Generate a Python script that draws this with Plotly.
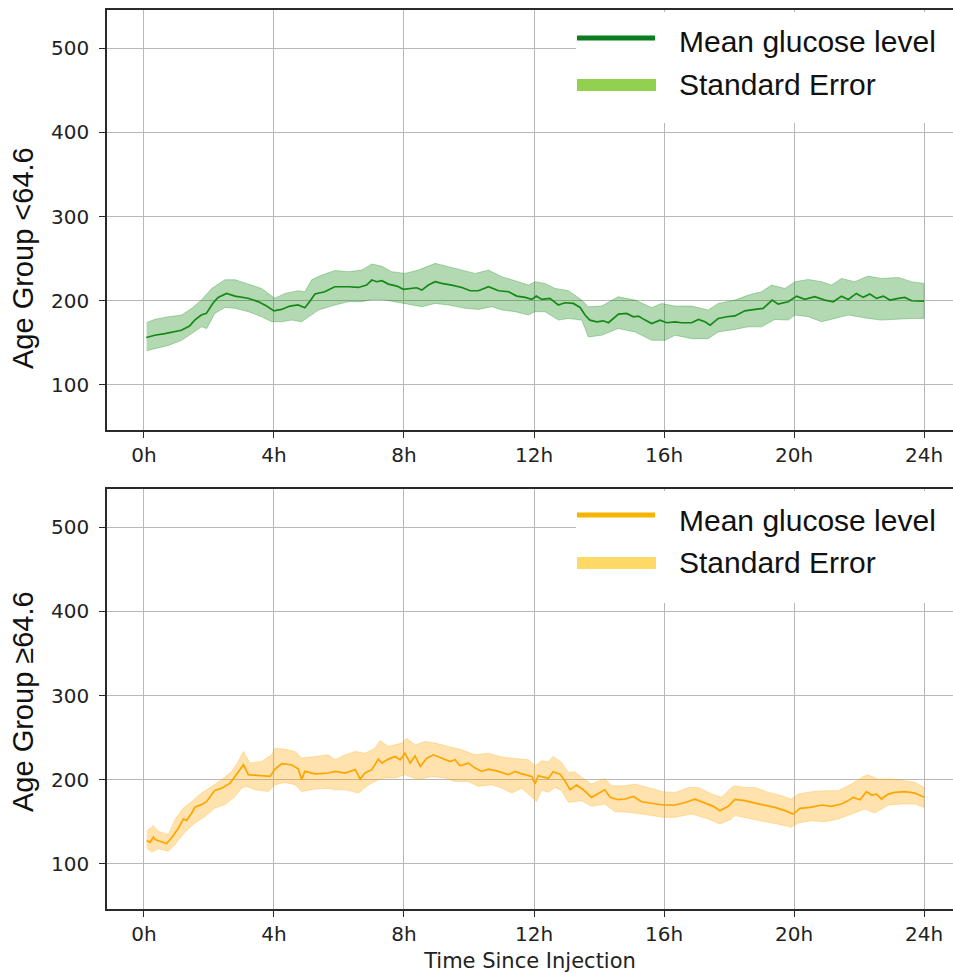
import plotly.graph_objects as go

# ---------------- data ----------------
tick_hours = [0, 4, 8, 12, 16, 20, 24]
tick_labels = ["0h", "4h", "8h", "12h", "16h", "20h", "24h"]
y_ticks = [100, 200, 300, 400, 500]

# Age group < 64.6 : mean glucose
young_mean_h = [0.07, 0.33, 0.64, 0.9, 1.15, 1.4, 1.56, 1.76, 1.92, 2.12, 2.28, 2.54, 2.8, 3.2, 3.51,
                3.77, 4.0, 4.23, 4.49, 4.74, 4.95, 5.1, 5.26, 5.56, 5.87, 6.29, 6.6, 6.85, 7.01, 7.16,
                7.32, 7.52, 7.78, 7.98, 8.19, 8.39, 8.55, 8.75, 8.96, 9.16, 9.47, 9.78, 10.04, 10.29,
                10.6, 10.91, 11.22, 11.47, 11.73, 11.93, 12.07, 12.24, 12.49, 12.75, 12.95, 13.21, 13.42,
                13.57, 13.72, 13.93, 14.13, 14.29, 14.6, 14.85, 15.06, 15.21, 15.42, 15.62, 15.88, 16.08,
                16.34, 16.54, 16.85, 17.06, 17.26, 17.42, 17.67, 17.93, 18.18, 18.49, 18.8, 19.05, 19.33,
                19.51, 19.82, 20.08, 20.33, 20.64, 20.95, 21.21, 21.46, 21.67, 21.92, 22.13, 22.33, 22.54,
                22.75, 22.95, 23.21, 23.41, 23.62, 24.0]
young_mean = [156.4, 159, 161, 163, 165, 170, 177, 183, 185, 197, 204, 208.7, 205.5, 203, 199,
              193.7, 188, 189.7, 193.7, 195, 191.7, 199, 208, 210.7, 216.6, 216.6, 215.8, 218.6, 224.6, 222.6,
              223.8, 219.8, 217.4, 213.5, 214.6, 215.4, 212.7, 218.6, 222.6, 220.6, 218.6, 215.8, 211.9, 211.9,
              216.6, 211.9, 210.7, 205.5, 204, 201.6, 205.5, 201.6, 202.8, 194.9, 197.6, 196.8, 192,
              183, 177, 175, 176.2, 173.9, 184.2, 185, 181, 181.8, 177, 173, 177, 173.9,
              175, 173.9, 173.9, 177.8, 175, 171, 179, 181, 182, 188, 189.7, 191, 200.8,
              196, 198.8, 205.5, 201.6, 204.8, 200.8, 198.8, 205.5, 201.6, 208.7, 204, 207.9, 202.8,
              205.5, 200.8, 202.8, 204, 200, 199.6]
# Age group < 64.6 : standard-error band
young_upper_h = [0.08, 0.34, 0.75, 1.16, 1.47, 1.77, 2.08, 2.49, 2.8, 3.21, 3.62, 3.93, 4.03, 4.34, 4.75,
                 4.95, 5.16, 5.47, 5.88, 6.29, 6.7, 7.01, 7.32, 7.62, 8.03, 8.44, 8.96, 9.37, 9.78, 10.19,
                 10.6, 11.01, 11.42, 11.83, 12.03, 12.34, 12.65, 13.06, 13.47, 13.67, 14.08, 14.59, 15.11,
                 15.62, 15.93, 16.34, 16.85, 17.36, 17.67, 18.18, 18.59, 19.0, 19.31, 19.72, 20.03, 20.44,
                 20.85, 21.15, 21.46, 21.87, 22.28, 22.69, 23.21, 23.62, 24.0]
young_upper = [174, 178, 181, 183, 191, 201, 214.6, 225, 225, 220, 214.6, 205.5, 203, 208.7, 212,
               210.7, 225, 230.5, 236, 234.5, 236.4, 243.6, 241, 234.5, 232.5, 236.4, 244.4, 240.4, 236.4, 232.5,
               236.4, 228.5, 223.8, 218.6, 222.6, 220.6, 214.6, 212, 200.8, 192.9, 193.7, 204.8, 200.8,
               192, 196.8, 193.7, 193.7, 189, 196.8, 200.8, 206.7, 210.7, 218.6, 214.6, 222.6, 225.3,
               222.6, 218.6, 226.5, 222.6, 229.3, 226.5, 227.7, 222.6, 220.6]
young_lower_h = [0.08, 0.34, 0.75, 1.16, 1.47, 1.77, 1.93, 2.18, 2.49, 2.8, 3.21, 3.62, 3.93, 4.24, 4.54,
                 4.85, 5.06, 5.37, 5.88, 6.29, 6.7, 7.01, 7.32, 7.73, 8.03, 8.55, 8.96, 9.37, 9.88, 10.29,
                 10.7, 11.01, 11.42, 11.83, 12.03, 12.34, 12.75, 13.06, 13.47, 13.67, 14.08, 14.59, 15.11,
                 15.62, 16.03, 16.34, 16.85, 17.36, 17.67, 18.18, 18.59, 19.0, 19.41, 19.82, 20.03, 20.44,
                 20.85, 21.26, 21.67, 22.28, 22.69, 23.21, 23.62, 24.0]
young_lower = [140.6, 143, 147, 153, 161, 169, 167, 185, 192, 191, 187, 181, 175, 175, 177,
               175, 181, 189, 195, 198.8, 198.8, 201.6, 201.6, 198.8, 196.8, 192.9, 196.8, 194.9, 191, 189.7,
               192.9, 189, 187, 183, 187, 187, 177, 179, 177, 157, 159, 167, 163,
               153, 153, 159, 155, 155, 163, 166, 169, 169, 177.8, 177, 183, 181,
               175, 179, 183, 179, 177, 177.8, 179, 179]

# Age group >= 64.6 : mean glucose
old_mean_h = [0.08, 0.19, 0.29, 0.34, 0.49, 0.7, 0.85, 1.06, 1.21, 1.31, 1.47, 1.57, 1.77, 1.93, 2.08,
              2.18, 2.39, 2.65, 2.8, 2.95, 3.06, 3.21, 3.52, 3.88, 4.03, 4.24, 4.54, 4.75, 4.85, 4.95,
              5.26, 5.67, 5.88, 6.19, 6.5, 6.65, 6.8, 7.01, 7.21, 7.32, 7.52, 7.73, 7.88, 8.03, 8.19,
              8.34, 8.5, 8.7, 8.91, 9.16, 9.42, 9.57, 9.73, 9.98, 10.19, 10.39, 10.6, 10.91, 11.21,
              11.42, 11.62, 11.93, 12.03, 12.13, 12.29, 12.44, 12.59, 12.8, 12.95, 13.11, 13.31, 13.52,
              13.77, 13.98, 14.18, 14.34, 14.59, 14.8, 15.06, 15.31, 15.62, 15.98, 16.34, 16.65, 16.95,
              17.26, 17.52, 17.72, 17.98, 18.18, 18.49, 18.8, 19.1, 19.41, 19.72, 19.98, 20.18, 20.49,
              20.85, 21.15, 21.46, 21.67, 21.82, 22.03, 22.23, 22.39, 22.54, 22.69, 22.9, 23.1, 23.41,
              23.72, 24.0]
old_mean = [128, 125.7, 132, 129, 127, 124.2, 131, 142.7, 153.4, 151.8, 160.5, 167.6, 170.4, 174.3, 182.2,
            187.4, 190, 196, 204, 212, 217.8, 206, 204.7, 204, 212.6, 219, 217.8, 212.6, 200, 210,
            207, 208, 210, 208, 212, 200.8, 208, 212, 224.5, 219.8, 224.5, 227.7, 223.7, 231.6, 219.8,
            228.4, 215.8, 225.7, 229.6, 225.7, 221.7, 223.7, 216.6, 219.8, 213.8, 209.9, 212.6, 209.9, 206,
            209.9, 207, 204, 194.9, 204.7, 202.8, 201.6, 209.5, 206.7, 198.8, 188.1, 193.7, 188.1,
            179.1, 184.2, 188.1, 179.1, 176.3, 177.1, 180.2, 173.9, 172.3, 170, 170, 173, 177,
            172.3, 168.4, 163.3, 168.4, 176.7, 175.2, 172.3, 170, 167.2, 163.3, 159.3, 166, 167.2,
            170, 168.4, 171.2, 175.2, 179.1, 176.3, 185.8, 181.8, 183, 177.1, 183, 185, 185.8,
            184.2, 179.1]
# Age group >= 64.6 : standard-error band
old_upper_h = [0.08, 0.29, 0.44, 0.75, 0.95, 1.21, 1.47, 1.77, 2.08, 2.39, 2.7, 2.9, 3.06, 3.26, 3.62,
               3.93, 4.03, 4.34, 4.65, 4.85, 5.26, 5.67, 5.88, 6.19, 6.5, 6.8, 7.11, 7.26, 7.52, 7.93,
               8.08, 8.34, 8.65, 8.96, 9.37, 9.78, 10.19, 10.6, 11.01, 11.42, 11.83, 12.03, 12.24, 12.44,
               12.59, 12.85, 13.06, 13.26, 13.47, 13.77, 14.18, 14.39, 14.8, 15.11, 15.52, 15.98, 16.34,
               16.75, 17.06, 17.47, 17.77, 18.08, 18.18, 18.49, 18.8, 19.21, 19.62, 19.92, 20.13, 20.54,
               20.95, 21.36, 21.77, 22.13, 22.28, 22.59, 23.0, 23.41, 23.72, 24.0]
old_upper = [138.8, 145.5, 138.8, 134.8, 152.6, 166.4, 174.3, 184.2, 192, 200, 210, 221.7, 233.6, 219.8, 221.7,
             229.6, 237.5, 236.3, 233.6, 225.7, 227.7, 229.6, 223.7, 229.6, 233.6, 231.6, 237.5, 246.6, 239.5, 243.5,
             249.4, 241.5, 245.4, 243.5, 239.5, 235.5, 229.6, 231.6, 226.9, 225.7, 223.7, 216.6, 222.5, 221.3,
             227.6, 220.5, 208.7, 209.5, 202.8, 194.9, 201.6, 192.9, 192.9, 194.9, 190.9, 185.8, 185,
             190.9, 190.9, 183, 179.1, 190.9, 192.9, 190.9, 190.9, 185, 181, 177.1, 183, 185.8,
             187, 187, 194.9, 204, 205.5, 200.8, 200.8, 198.8, 196.9, 190.9]
old_lower_h = [0.08, 0.24, 0.44, 0.75, 0.95, 1.26, 1.57, 1.88, 2.18, 2.49, 2.8, 3.0, 3.16, 3.42, 3.83,
               4.03, 4.34, 4.65, 4.85, 5.26, 5.67, 5.88, 6.19, 6.6, 6.91, 7.21, 7.42, 7.73, 8.03, 8.44,
               8.85, 9.26, 9.57, 9.98, 10.29, 10.7, 11.01, 11.32, 11.62, 12.08, 12.24, 12.44, 12.65,
               12.85, 13.06, 13.47, 13.77, 14.18, 14.49, 14.9, 15.31, 15.98, 16.34, 16.85, 17.36, 17.72,
               18.08, 18.18, 18.49, 18.8, 19.21, 19.62, 19.92, 20.13, 20.54, 20.95, 21.36, 21.77, 22.18,
               22.49, 22.9, 23.31, 23.72, 24.0]
old_lower = [119, 113.9, 118, 115, 123, 137.6, 148.7, 156.5, 166.4, 170.4, 180, 190, 192, 188, 186,
             194, 196.8, 194, 186, 189, 190, 188, 188, 184.2, 194, 200, 202, 202, 206, 200,
             204, 202, 198, 198, 192, 194, 190, 184.2, 190, 174.3, 188, 185, 190.9,
             187, 173.2, 175.2, 168.4, 171.2, 162.1, 161.3, 159.3, 155.4, 155.4, 159.3, 153.4, 147.5,
             153.4, 157.4, 155.4, 153.4, 149.4, 146.3, 143.5, 148.6, 151.4, 150.2, 153.4, 159.3, 165.2,
             160.5, 170, 171.2, 171.2, 167.2]

legend_labels = ["Mean glucose level", "Standard Error"]

# ---------------- figure ----------------
W, H = 953, 973


def py(pix):
    return 1 - pix / H


fig = go.Figure()

panels = [
    dict(xa="x", ya="y", mean_h=young_mean_h, mean=young_mean, up_h=young_upper_h, up=young_upper,
         lo_h=young_lower_h, lo=young_lower, line="#138a13", fill="rgba(0,128,0,0.30)",
         edge="rgba(0,128,0,0.28)", name="Age Group <64.6"),
    dict(xa="x2", ya="y2", mean_h=old_mean_h, mean=old_mean, up_h=old_upper_h, up=old_upper,
         lo_h=old_lower_h, lo=old_lower, line="#FFA500", fill="rgba(255,165,0,0.32)",
         edge="rgba(255,165,0,0.28)", name="Age Group ≥64.6"),
]

for p in panels:
    fig.add_trace(go.Scatter(
        x=p["up_h"] + p["lo_h"][::-1], y=p["up"] + p["lo"][::-1],
        fill="toself", fillcolor=p["fill"], line=dict(color=p["edge"], width=1),
        mode="lines", hoverinfo="skip", showlegend=False, xaxis=p["xa"], yaxis=p["ya"],
        name=p["name"] + " Standard Error"))
    fig.add_trace(go.Scatter(
        x=p["mean_h"], y=p["mean"], mode="lines", line=dict(color=p["line"], width=1.7),
        showlegend=False, xaxis=p["xa"], yaxis=p["ya"], name=p["name"] + " Mean glucose level"))

x_left = 107 / W
x_range = [-1.138, 24.892]
tickfont = dict(family="DejaVu Sans", size=20, color="#222222")
common_x = dict(range=x_range, domain=[x_left, 1.0], tickmode="array", tickvals=tick_hours,
                ticktext=tick_labels, showgrid=True, gridcolor="#b8b8b8", gridwidth=1,
                zeroline=False, showline=True, linecolor="#2a2a2a", linewidth=1.6, mirror=True,
                ticks="outside", ticklen=6, tickwidth=1.2, tickcolor="#2a2a2a", tickfont=tickfont)
common_y = dict(range=[46.5, 545.3], tickmode="array", tickvals=y_ticks, showgrid=True,
                gridcolor="#b8b8b8", gridwidth=1, zeroline=False, showline=True,
                linecolor="#2a2a2a", linewidth=1.6, ticks="outside", ticklen=6, tickwidth=1.2,
                tickcolor="#2a2a2a", tickfont=tickfont, ticklabelstandoff=6)

fig.update_layout(
    width=W, height=H, margin=dict(l=0, r=0, t=0, b=0),
    paper_bgcolor="white", plot_bgcolor="white", showlegend=False,
    xaxis=dict(**common_x, anchor="y"),
    yaxis=dict(**common_y, domain=[py(430), py(10)], anchor="x"),
    xaxis2=dict(**common_x, anchor="y2",
                title=dict(text="Time Since Injection", standoff=9,
                           font=dict(family="DejaVu Sans", size=21, color="#222222"))),
    yaxis2=dict(**common_y, domain=[py(909), py(489)], anchor="x2"),
)

# legend boxes drawn as in the picture (white patch over grid, wide swatches)
legend_specs = [
    dict(box=(12, 123), line_y=38, band_y=85, t1=42, t2=84, line_col="#0b7d1e", band_col="#92d050"),
    dict(box=(491, 603), line_y=515, band_y=563, t1=520, t2=562, line_col="#f5b400", band_col="#ffd966"),
]
shapes = []
annotations = []
for s in legend_specs:
    shapes.append(dict(type="rect", xref="paper", yref="paper", x0=576 / W, x1=1.0,
                       y0=py(s["box"][1]), y1=py(s["box"][0]), fillcolor="white",
                       line=dict(width=0), layer="above"))
    shapes.append(dict(type="line", xref="paper", yref="paper", x0=577 / W, x1=655 / W,
                       y0=py(s["line_y"]), y1=py(s["line_y"]),
                       line=dict(color=s["line_col"], width=5), layer="above"))
    shapes.append(dict(type="line", xref="paper", yref="paper", x0=577 / W, x1=656 / W,
                       y0=py(s["band_y"]), y1=py(s["band_y"]),
                       line=dict(color=s["band_col"], width=12), layer="above"))
    for txt, ty in zip(legend_labels, (s["t1"], s["t2"])):
        annotations.append(dict(text=txt, xref="paper", yref="paper", x=677 / W, y=py(ty),
                                xanchor="left", yanchor="middle", showarrow=False,
                                font=dict(family="Liberation Sans", size=30, color="#111111")))

for p, cy in zip(panels, (258, 702)):
    annotations.append(dict(text=p["name"], xref="paper", yref="paper", x=23 / W, y=py(cy),
                            xanchor="center", yanchor="middle", textangle=-90, showarrow=False,
                            font=dict(family="Liberation Sans", size=29, color="#111111")))

fig.update_layout(shapes=shapes, annotations=annotations)
fig.write_html("out.html")
